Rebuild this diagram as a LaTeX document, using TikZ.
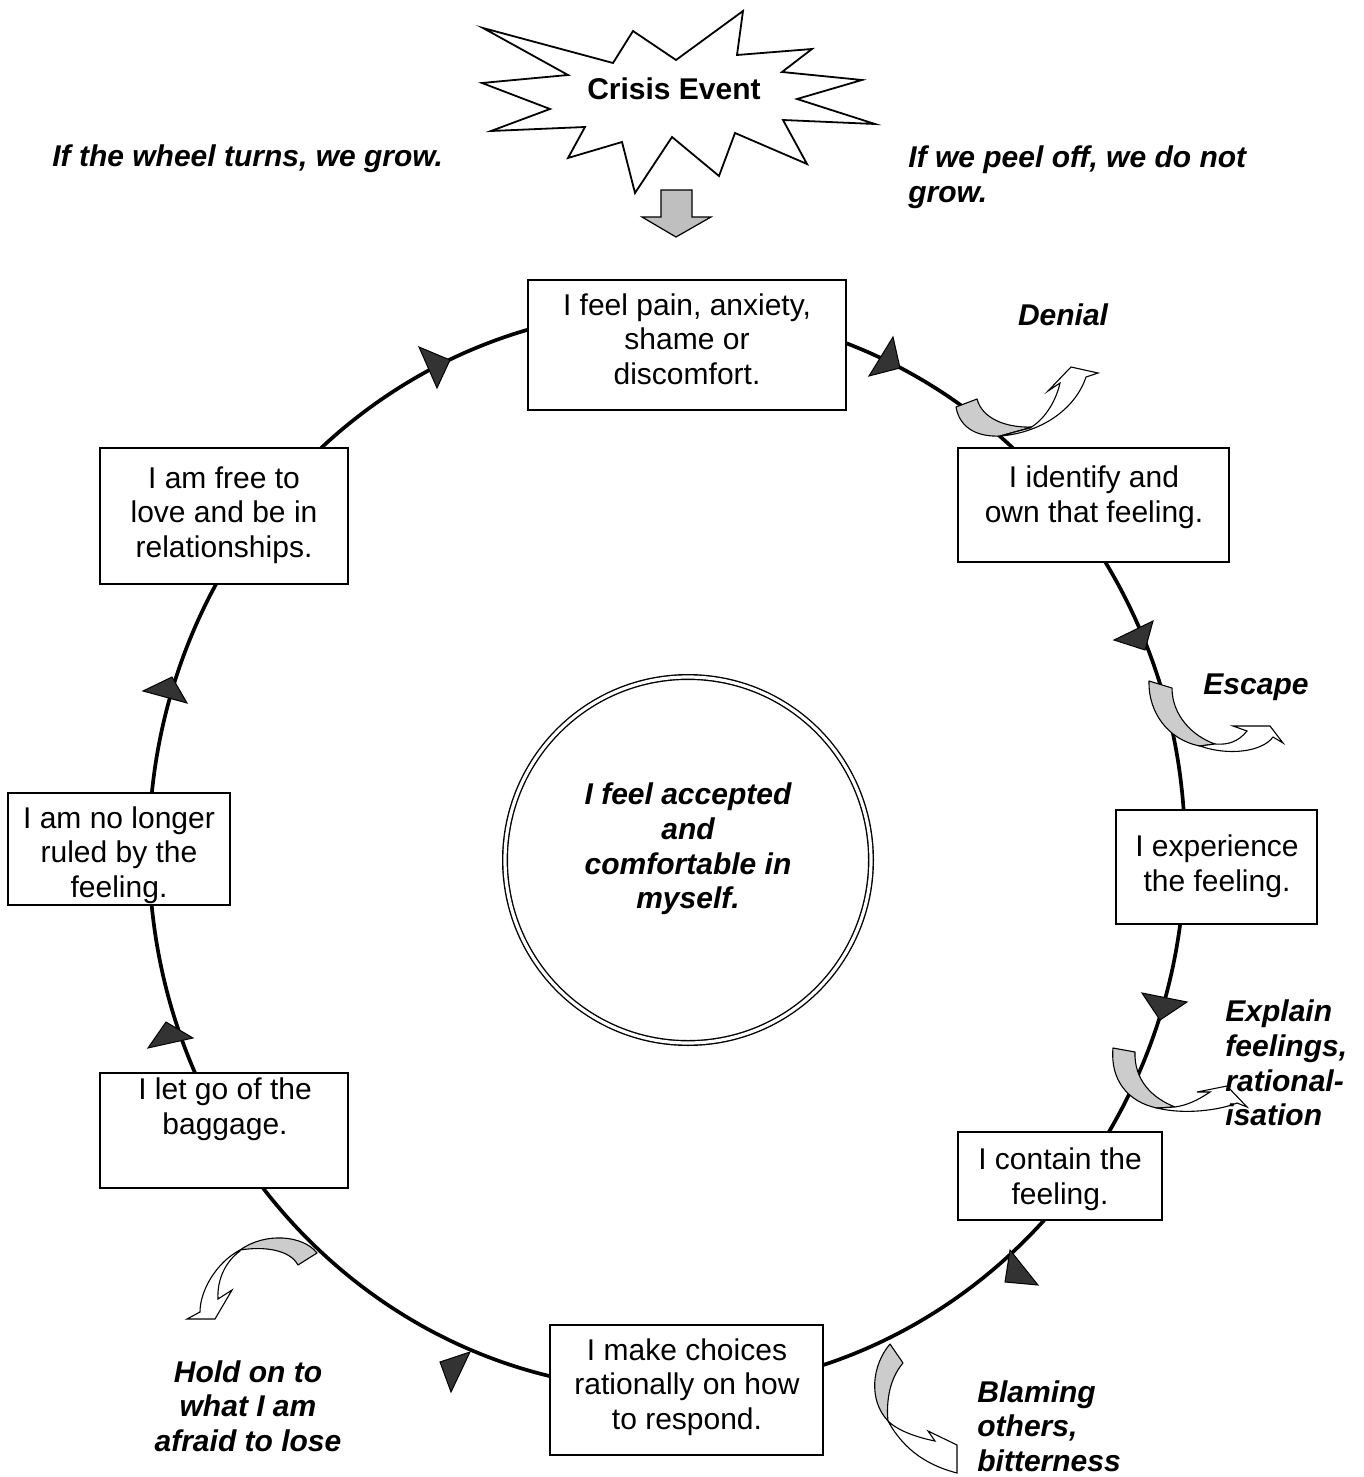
\documentclass[tikz,border=0pt]{standalone}
\usepackage{fontspec}
\setmainfont{Liberation Sans}
\begin{document}
\begin{tikzpicture}[x=0.5pt,y=-0.5pt,
  every node/.style={font=\fontsize{15pt}{17.3pt}\selectfont, inner sep=0pt},
  box/.style={draw, line width=0.85pt, fill=white, inner sep=0pt},
  txt/.style={align=center},
  lbl/.style={font=\fontsize{15pt}{17.3pt}\selectfont\bfseries\itshape},
  tri/.style={fill=black!80, draw=black, line width=0.5pt, line join=miter},
  tail/.style={fill=black!20, draw=black, line width=0.55pt, line join=round},
  head/.style={fill=white, draw=black, line width=0.55pt, line join=miter},
  ring/.style={line width=1.85pt},
  burst/.style={draw, line width=0.9pt, fill=white, line join=miter},
  downarr/.style={draw, line width=0.6pt, fill=black!25}]
\useasboundingbox (0,0) rectangle (1364,1477);

% ---- ring ----
\draw[ring] (667,850) ellipse [x radius=518, y radius=540];

% ---- direction triangles ----
\draw[tri] (419,347) -- (450,360) -- (437,388) -- cycle;
\draw[tri] (893,337) -- (900,368) -- (869,376) -- cycle;
\draw[tri] (1153,621) -- (1145,650) -- (1114,640) -- cycle;
\draw[tri] (1142,993) -- (1187,1002) -- (1160,1020) -- cycle;
\draw[tri] (1010,1250) -- (1038,1285) -- (1005,1282) -- cycle;
\draw[tri] (440,1362) -- (470,1352) -- (451,1392) -- cycle;
\draw[tri] (166,1022) -- (193,1038) -- (148,1048) -- cycle;
\draw[tri] (172,677) -- (187,703) -- (143,691) -- cycle;

% ---- centre circle ----
\node[circle, draw, double, line width=0.7pt, double distance=1.6pt, minimum size=183pt] (core) at (688,860) {};
\node[lbl, txt] (coretext) at (688,849) {I feel accepted\\and\\comfortable in\\myself.};

% ---- boxes ----
\node[box, minimum width=159pt, minimum height=65pt] (b1) at (687,345) {};
\node[txt] (t1) at (687,339) {I feel pain, anxiety,\\shame or\\discomfort.};
\node[box, minimum width=135.5pt, minimum height=57pt] (b2) at (1093.5,505) {};
\node[txt] (t2) at (1094,497) {I identify and\\own that feeling.};
\node[box, minimum width=100.5pt, minimum height=57pt] (b3) at (1216.5,867) {};
\node[txt] (t3) at (1217,866) {I experience\\the feeling.};
\node[box, minimum width=102pt, minimum height=44pt] (b4) at (1060,1176) {};
\node[txt] (t4) at (1060,1179) {I contain the\\feeling.};
\node[box, minimum width=136.5pt, minimum height=65pt] (b5) at (686.5,1390) {};
\node[txt] (t5) at (687,1387) {I make choices\\rationally on how\\to respond.};
\node[box, minimum width=124pt, minimum height=57.5pt] (b6) at (224,1130.5) {};
\node[txt] (t6) at (225,1109) {I let go of the\\baggage.};
\node[box, minimum width=111pt, minimum height=56pt] (b7) at (119,849) {};
\node[txt] (t7) at (119,855) {I am no longer\\ruled by the\\feeling.};
\node[box, minimum width=124pt, minimum height=68pt] (b8) at (224,516) {};
\node[txt] (t8) at (224,515) {I am free to\\love and be in\\relationships.};

% ---- crisis starburst ----
\draw[burst] (483,28) -- (613,63) -- (633,31) -- (676,60) -- (743,11) -- (737,55)
  -- (812,49) -- (782,72) -- (862,80) -- (797,99) -- (875,124) -- (783,120)
  -- (807,164) -- (735,133) -- (719,176) -- (672,137) -- (635,193) -- (622,142)
  -- (568,158) -- (585,127) -- (491,131) -- (550,109) -- (482,83) -- (568,75) -- cycle;
\node[font=\fontsize{15pt}{17.3pt}\selectfont\bfseries] (crisis) at (674,89) {Crisis Event};
\draw[downarr] (661,190) -- (692,190) -- (692,217) -- (711,217) -- (676,237) -- (642,217) -- (661,217) -- cycle;

% ---- peel-off arrows ----
% Denial
\draw[tail] (956,407) .. controls (960,430) and (980,437) .. (1000,436) -- (1032,427)
  .. controls (1005,428) and (982,418) .. (977,399) -- cycle;
\draw[head] (1000,436) .. controls (1040,433) and (1075,410) .. (1086,377) -- (1098,373)
  -- (1071,367) -- (1048,391) -- (1060,383) .. controls (1055,405) and (1042,421) .. (1030,428) -- cycle;
% Escape
\draw[tail] (1149,681) .. controls (1148,712) and (1168,740) .. (1200,746) -- (1215,744)
  .. controls (1192,736) and (1172,715) .. (1172,688) -- cycle;
\draw[head] (1200,746) .. controls (1228,756) and (1262,752) .. (1273,737) -- (1283,743)
  -- (1270,726) -- (1233,726) -- (1247,731) .. controls (1238,742) and (1228,745) .. (1215,744) -- cycle;
% Explain
\draw[tail] (1113,1048) .. controls (1110,1080) and (1128,1102) .. (1157,1108) -- (1175,1107)
  .. controls (1152,1098) and (1134,1080) .. (1135,1052) -- cycle;
\draw[head] (1157,1108) .. controls (1185,1115) and (1220,1110) .. (1237,1103) -- (1247,1107)
  -- (1227,1086) -- (1197,1092) -- (1210,1092) .. controls (1198,1100) and (1188,1105) .. (1175,1107) -- cycle;
% Blaming
\draw[tail] (890,1344) .. controls (872,1365) and (868,1400) .. (888,1421)
  .. controls (886,1400) and (890,1378) .. (903,1363) -- cycle;
\draw[head] (888,1421) .. controls (905,1452) and (930,1466) .. (957,1473) -- (957,1445)
  -- (928,1431) -- (935,1441) .. controls (915,1437) and (897,1430) .. (888,1421) -- cycle;
% Hold on
\draw[tail] (317,1253) .. controls (303,1235) and (265,1232) .. (240,1250)
  .. controls (265,1246) and (290,1250) .. (298,1265) -- cycle;
\draw[head] (240,1250) .. controls (217,1262) and (200,1290) .. (200,1312) -- (187,1319)
  -- (215,1319) -- (232,1290) -- (218,1299) .. controls (217,1280) and (225,1262) .. (240,1251) -- cycle;

% ---- labels ----
\node[lbl, anchor=west] (turns) at (52,159) {If the wheel turns, we grow.};
\node[lbl, anchor=west, align=left] (peel) at (908,177) {If we peel off, we do not\\grow.};
\node[lbl] (denial) at (1063,315) {Denial};
\node[lbl] (escape) at (1256,687) {Escape};
\node[lbl, anchor=west, align=left] (explain) at (1225,1063) {Explain\\feelings,\\rational-\\isation};
\node[lbl, anchor=west, align=left] (blame) at (977,1426) {Blaming\\others,\\bitterness};
\node[lbl, align=center] (hold) at (248,1406) {Hold on to\\what I am\\afraid to lose};
\end{tikzpicture}
\end{document}
